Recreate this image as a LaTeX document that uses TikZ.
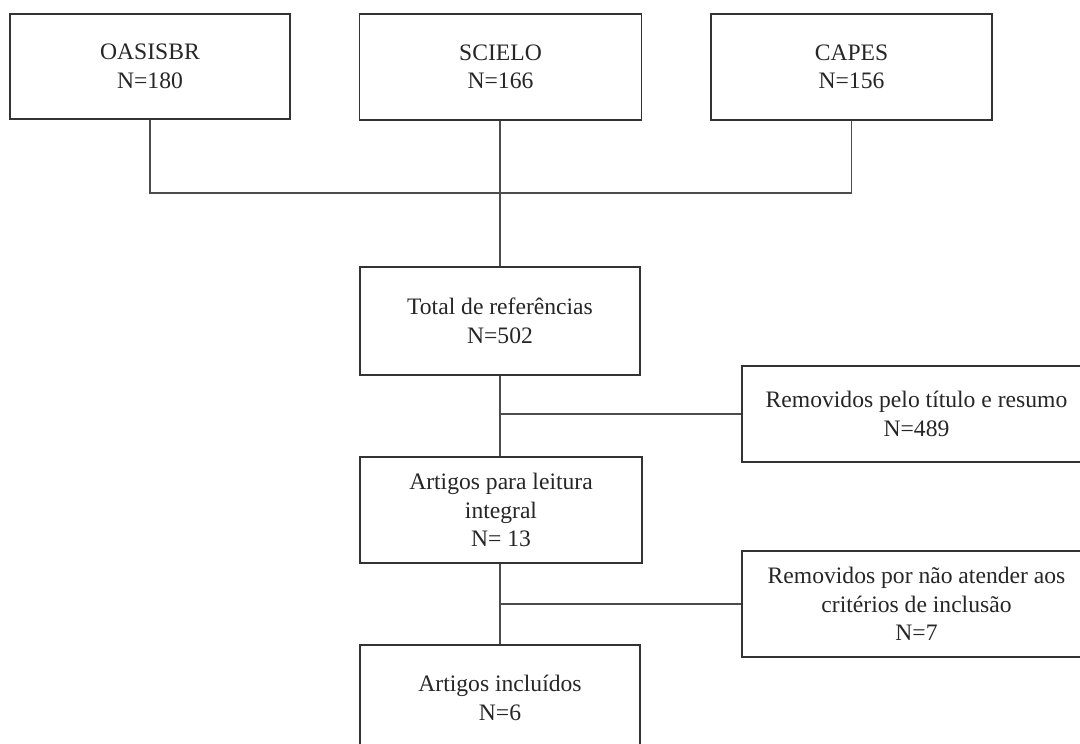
\documentclass[tikz,border=0pt]{standalone}
\usepackage{fontspec}
\setmainfont{Liberation Serif}
\begin{document}
\begin{tikzpicture}[x=1pt,y=-1pt,
  box/.style={draw=black!80,line width=1.3pt,rectangle,inner sep=0pt,align=center,text=black!85,
    font=\fontsize{23.6}{28.5}\selectfont},
  link/.style={draw=black!70,line width=1.3pt}]
\useasboundingbox (0,0) rectangle (1080,744);
\clip (0,0) rectangle (1080,744);
\fill[white] (0,0) rectangle (1080,744);
\node[box,minimum width=280pt,minimum height=105pt] (oas) at (150,66.5) {OASISBR\\N=180};
\node[box,minimum width=282pt,minimum height=106pt] (sci) at (500.5,67) {SCIELO\\N=166};
\node[box,minimum width=281pt,minimum height=106pt] (cap) at (851.5,67) {CAPES\\N=156};
\node[box,minimum width=280pt,minimum height=108pt] (tot) at (500,321) {Total de referências\\N=502};
\node[box,minimum width=349pt,minimum height=96pt] (rem1) at (916.5,414) {Removidos pelo título e resumo\\N=489};
\node[box,minimum width=282pt,minimum height=106pt] (art) at (501,510) {Artigos para leitura\\integral\\N= 13};
\node[box,minimum width=349pt,minimum height=106pt] (rem2) at (916.5,604) {Removidos por não atender aos\\critérios de inclusão\\N=7};
\node[box,minimum width=280pt,minimum height=106pt] (inc) at (500,698) {Artigos incluídos\\N=6};
\coordinate (j1) at (500,193);
\draw[link] (oas.south) |- (j1) -| (cap.south);
\draw[link] (tot.north |- sci.south) -- (tot.north);
\draw[link] (tot.south) -- (tot.south |- art.north);
\draw[link] (tot.south |- rem1.west) -- (rem1.west);
\draw[link] (tot.south |- art.south) -- (tot.south |- inc.north);
\draw[link] (tot.south |- rem2.west) -- (rem2.west);
\end{tikzpicture}
\end{document}
